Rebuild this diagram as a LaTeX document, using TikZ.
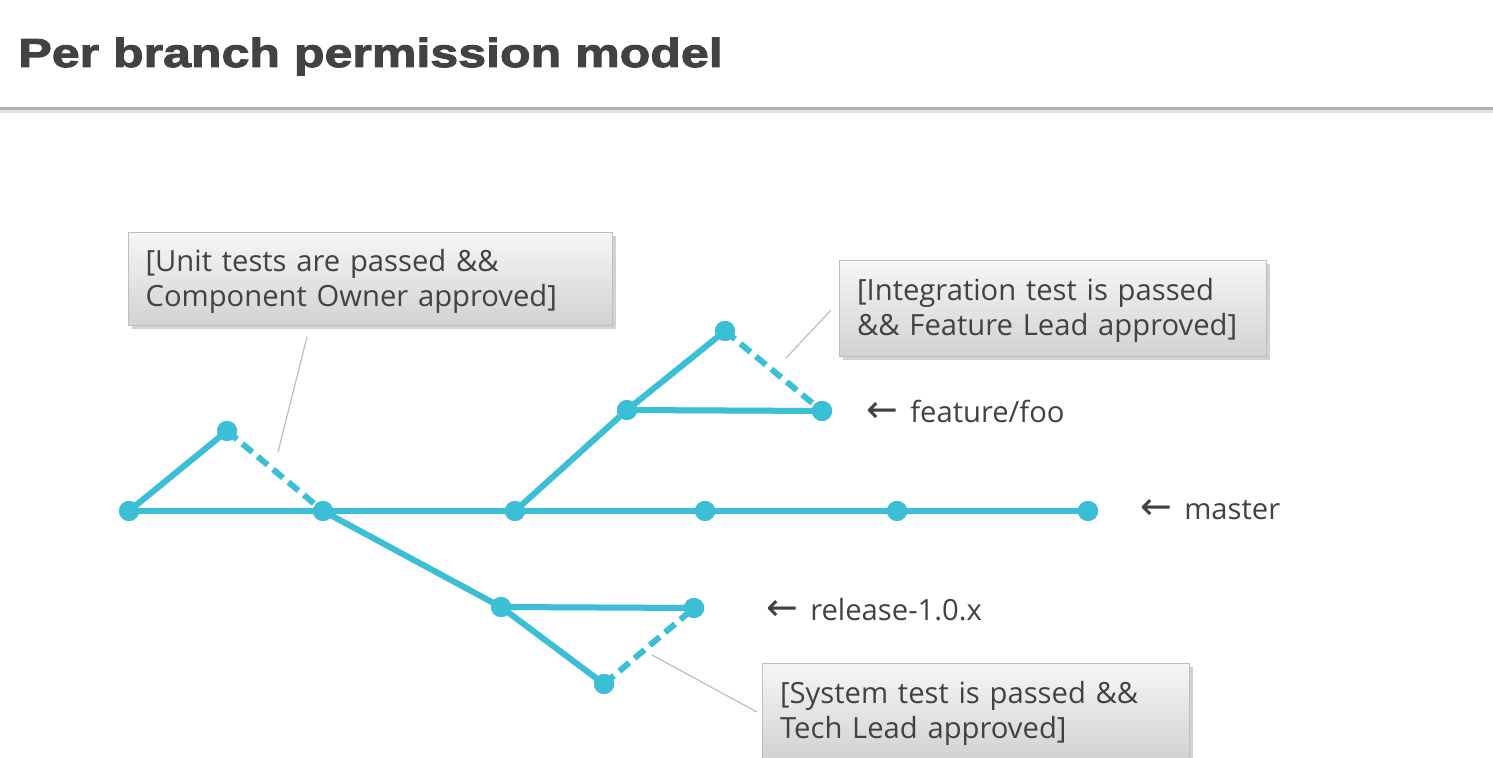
\documentclass[tikz,border=0pt]{standalone}
\usepackage{fontspec}
\setmainfont{Open Sans}
\newfontfamily\titlefont{Liberation Sans}[BoldFeatures={FakeStretch=1.24,FakeBold=2.5}]
\newfontfamily\arrowfont{DejaVu Sans}
\usetikzlibrary{shadows}
\definecolor{branch}{RGB}{59,191,214}
\definecolor{txt}{RGB}{66,66,68}
\definecolor{boxtop}{RGB}{246,246,246}
\definecolor{boxbot}{RGB}{210,210,210}
\definecolor{callout}{RGB}{190,190,190}
\newcommand{\larr}{{\arrowfont\fontsize{19}{16}\selectfont ←}\hspace{6pt}}
\tikzset{
  commit/.style={circle, fill=branch, inner sep=0pt, minimum size=10pt},
  solidedge/.style={draw=branch, line width=3pt},
  dashedge/.style={draw=branch, line width=3pt, dash pattern=on 6.5pt off 3.5pt},
  shadowedge/.style={draw=black, opacity=0.12, line width=3pt},
  notebox/.style={draw=callout, line width=0.6pt, top color=boxtop, bottom color=boxbot,
    anchor=north west, align=left, inner xsep=8.5pt, inner ysep=0pt,
    font=\fontsize{14.6}{17.5}\selectfont, text=txt,
    drop shadow={shadow xshift=1.5pt, shadow yshift=-1.5pt, opacity=0.35}},
  calloutline/.style={draw=callout, line width=0.6pt},
  branchlabel/.style={anchor=west, text=txt, inner sep=0pt, font=\fontsize{14.6}{16}\selectfont},
  title/.style={anchor=base west, inner sep=0pt, text=txt, font=\titlefont\bfseries\fontsize{20.2}{24}\selectfont}
}
\begin{document}
\begin{tikzpicture}[x=0.5pt, y=-0.5pt]
\useasboundingbox (0,0) rectangle (1493,758);
\fill[white] (0,0) rectangle (1493,758);
% title and rule
\node[title] (title) at (18,67) {Per branch permission model};
\fill[black!12] (0,109) rectangle (1493,113);
\fill[black!30] (0,107) rectangle (1493,110);
% commits
\node[commit] (m1) at (129,511) {};
\node[commit] (m2) at (323,511) {};
\node[commit] (m3) at (515,511) {};
\node[commit] (m4) at (705,511) {};
\node[commit] (m5) at (897,511) {};
\node[commit] (m6) at (1088,511) {};
\node[commit] (u1) at (227,431) {};
\node[commit] (f1) at (627,410) {};
\node[commit] (f2) at (725,331) {};
\node[commit] (f3) at (822,411) {};
\node[commit] (r1) at (501,607) {};
\node[commit] (r2) at (694,608) {};
\node[commit] (r3) at (604,684) {};
% soft shadows of the graph
\begin{scope}[xshift=1.2pt, yshift=-1.2pt]
\draw[shadowedge] (m1.center) -- (m6.center);
\draw[shadowedge] (m1.center) -- (u1.center);
\draw[shadowedge] (m3.center) -- (f1.center) -- (f3.center);
\draw[shadowedge] (f1.center) -- (f2.center);
\draw[shadowedge] (m2.center) -- (r1.center) -- (r2.center);
\draw[shadowedge] (r1.center) -- (r3.center);
\foreach \n in {m1,m2,m3,m4,m5,m6,u1,f1,f2,f3,r1,r2,r3}
  \fill[black, opacity=0.15] (\n) circle (5pt);
\end{scope}
% edges
\draw[solidedge] (m1.center) -- (m6.center);
\draw[solidedge] (m1.center) -- (u1.center);
\draw[dashedge] (u1.center) -- (m2.center);
\draw[solidedge] (m3.center) -- (f1.center) -- (f3.center);
\draw[solidedge] (f1.center) -- (f2.center);
\draw[dashedge] (f2.center) -- (f3.center);
\draw[solidedge] (m2.center) -- (r1.center) -- (r2.center);
\draw[solidedge] (r1.center) -- (r3.center);
\draw[dashedge] (r3.center) -- (r2.center);
% redraw commits on top
\foreach \n in {m1,m2,m3,m4,m5,m6,u1,f1,f2,f3,r1,r2,r3}
  \fill[branch] (\n) circle (5pt);
% labels
\node[branchlabel] (lf) at (866,411) {\larr feature/foo};
\node[branchlabel] (lm) at (1140,510) {\larr master};
\node[branchlabel] (lr) at (766,610) {\larr release-1.0.x};
% boxes
\node[notebox, minimum width=242pt, minimum height=46.5pt, text width=225pt] (b1) at (128,232)
  {\rule{0pt}{13pt}[Unit tests are passed \&\&\\Component Owner approved]};
\node[notebox, minimum width=213.5pt, minimum height=48pt, text width=196pt] (b2) at (839,260)
  {\rule{0pt}{13pt}[Integration test is passed\\\&\& Feature Lead approved]};
\node[notebox, minimum width=213.5pt, minimum height=48pt, text width=196pt] (b3) at (762,663)
  {\rule{0pt}{13pt}[System test is passed \&\&\\Tech Lead approved]};
% callouts
\coordinate (c1a) at (307,337);
\coordinate (c1b) at (278,452);
\coordinate (c2a) at (831,310);
\coordinate (c2b) at (786,358);
\coordinate (c3a) at (757,712);
\coordinate (c3b) at (652,655);
\draw[calloutline] (c1a) -- (c1b);
\draw[calloutline] (c2a) -- (c2b);
\draw[calloutline] (c3a) -- (c3b);
\end{tikzpicture}
\end{document}
